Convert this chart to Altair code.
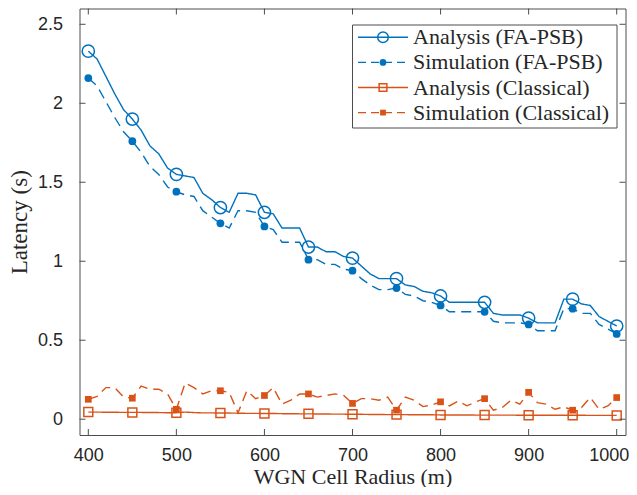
import altair as alt
import pandas as pd

radius = list(range(400, 1001, 10))

ana_fa = [2.33, 2.28, 2.17, 2.06, 1.96, 1.90, 1.83, 1.73, 1.68, 1.59,
          1.55, 1.54, 1.53, 1.43, 1.39, 1.34, 1.31, 1.43, 1.43, 1.42,
          1.31, 1.30, 1.21, 1.21, 1.21, 1.09, 1.09, 1.06, 1.06, 1.03,
          1.02, 0.97, 0.92, 0.89, 0.89, 0.89, 0.85, 0.84, 0.81, 0.80,
          0.78, 0.74, 0.74, 0.74, 0.74, 0.74, 0.67, 0.66, 0.66, 0.66,
          0.64, 0.61, 0.61, 0.61, 0.76, 0.76, 0.73, 0.72, 0.65, 0.62,
          0.59]

sim_fa = [2.16, 2.11, 2.01, 1.91, 1.82, 1.76, 1.69, 1.60, 1.55, 1.47,
          1.44, 1.42, 1.41, 1.32, 1.28, 1.24, 1.21, 1.32, 1.32, 1.31,
          1.22, 1.20, 1.12, 1.12, 1.12, 1.01, 1.01, 0.98, 0.98, 0.95,
          0.94, 0.89, 0.85, 0.82, 0.82, 0.83, 0.79, 0.78, 0.75, 0.74,
          0.72, 0.68, 0.68, 0.68, 0.68, 0.68, 0.62, 0.61, 0.61, 0.61,
          0.60, 0.56, 0.56, 0.56, 0.70, 0.70, 0.67, 0.67, 0.60, 0.57,
          0.54]

ana_cl = [0.045, 0.045, 0.044, 0.044, 0.043, 0.043, 0.043, 0.042, 0.042, 0.041,
          0.041, 0.045, 0.042, 0.040, 0.040, 0.039, 0.039, 0.038, 0.037, 0.037,
          0.036, 0.036, 0.035, 0.035, 0.034, 0.034, 0.033, 0.033, 0.032, 0.032,
          0.031, 0.031, 0.030, 0.030, 0.029, 0.029, 0.029, 0.028, 0.028, 0.028,
          0.027, 0.027, 0.027, 0.027, 0.026, 0.026, 0.026, 0.026, 0.026, 0.025,
          0.025, 0.025, 0.025, 0.025, 0.025, 0.025, 0.025, 0.024, 0.024, 0.024,
          0.024]

sim_cl = [0.126, 0.145, 0.200, 0.200, 0.140, 0.133, 0.210, 0.190, 0.190, 0.160,
          0.063, 0.230, 0.200, 0.160, 0.180, 0.180, 0.170, 0.040, 0.180, 0.130,
          0.150, 0.200, 0.095, 0.120, 0.160, 0.160, 0.140, 0.150, 0.160, 0.150,
          0.100, 0.130, 0.130, 0.120, 0.140, 0.057, 0.140, 0.120, 0.080, 0.090,
          0.110, 0.084, 0.115, 0.085, 0.110, 0.130, 0.057, 0.074, 0.120, 0.095,
          0.170, 0.105, 0.095, 0.063, 0.078, 0.057, 0.074, 0.137, 0.063, 0.084,
          0.137]

series_names = ["Analysis (FA-PSB)", "Simulation (FA-PSB)",
                "Analysis (Classical)", "Simulation (Classical)"]
series_values = [ana_fa, sim_fa, ana_cl, sim_cl]

x_ticks = [400, 500, 600, 700, 800, 900, 1000]
y_ticks = [0, 0.5, 1, 1.5, 2, 2.5]

BLUE = "#0072BD"
ORANGE = "#D95319"
AXC = "#262626"
FRAME = "#4d4d4d"
W = 546
H = 426.5
DASH = [10, 6]

styles = [
    dict(color=BLUE, dash=[1, 0], shape="circle", filled=False, size=150),
    dict(color=BLUE, dash=DASH, shape="circle", filled=True, size=60),
    dict(color=ORANGE, dash=[1, 0], shape="square", filled=False, size=80),
    dict(color=ORANGE, dash=DASH, shape="square", filled=True, size=45),
]

xs = alt.Scale(domain=[390, 1010], nice=False, zero=False)
ys = alt.Scale(domain=[-0.1, 2.6], nice=False, zero=False)

x_axis = alt.Axis(values=x_ticks, format="d", ticks=False, domain=False, grid=False,
                  labelFont="Liberation Sans", labelFontSize=18, labelColor=AXC,
                  labelPadding=11, labelOverlap=False, labelFlush=False,
                  labelOffset={"condition": {"test": "datum.value === 1000", "value": -8},
                               "value": 0},
                  title="WGN Cell Radius (m)",
                  titleFont="Liberation Serif", titleFontSize=22,
                  titleFontWeight="normal", titleColor=AXC, titlePadding=2)
y_axis = alt.Axis(values=y_ticks, format="~g", ticks=False, domain=False, grid=False,
                  labelFont="Liberation Sans", labelFontSize=18, labelColor=AXC,
                  labelPadding=17, title="Latency (s)",
                  titleFont="Liberation Serif", titleFontSize=23,
                  titleFontWeight="normal", titleColor=AXC, titlePadding=6)


def X(f):
    return alt.X(f, scale=xs, axis=x_axis)


def Y(f):
    return alt.Y(f, scale=ys, axis=y_axis)


layers = []
for i, (name, vals) in enumerate(zip(series_names, series_values)):
    st = styles[i]
    df = pd.DataFrame({"x": radius, "y": vals})
    base = alt.Chart(df)
    line = base.mark_line(color=st["color"], strokeWidth=1.4,
                          strokeDash=st["dash"]).encode(x=X("x:Q"), y=Y("y:Q"))
    pts = base.transform_filter("datum.x % 50 == 0").mark_point(
        shape=st["shape"], filled=st["filled"], color=st["color"],
        size=st["size"], strokeWidth=1.5, opacity=1
    ).encode(x=X("x:Q"), y=Y("y:Q"))
    layers += [line, pts]

# inward ticks on all four sides
xt = alt.Chart(pd.DataFrame({"v": x_ticks}))
yt = alt.Chart(pd.DataFrame({"v": y_ticks}))
tick_len = 6
layers.append(xt.mark_rule(color=FRAME, strokeWidth=1).encode(
    x=X("v:Q"), y=alt.value(H), y2=alt.value(H - tick_len)))
layers.append(xt.mark_rule(color=FRAME, strokeWidth=1).encode(
    x=X("v:Q"), y=alt.value(0), y2=alt.value(tick_len)))
layers.append(yt.mark_rule(color=FRAME, strokeWidth=1).encode(
    y=Y("v:Q"), x=alt.value(0), x2=alt.value(tick_len)))
layers.append(yt.mark_rule(color=FRAME, strokeWidth=1).encode(
    y=Y("v:Q"), x=alt.value(W), x2=alt.value(W - tick_len)))

# legend box
one = alt.Chart(pd.DataFrame({"a": [0]}))
LX0, LX1, LY0, LY1 = 273, 537.5, 16.5, 119.5
layers.append(one.mark_rect(fill="white", stroke=FRAME, strokeWidth=1).encode(
    x=alt.value(LX0), x2=alt.value(LX1), y=alt.value(LY0), y2=alt.value(LY1)))
for i, name in enumerate(series_names):
    st = styles[i]
    yy = 28.8 + 25.1 * i
    layers.append(one.mark_rule(color=st["color"], strokeWidth=1.4,
                                strokeDash=[8, 5] if st["dash"] == DASH else [1, 0]).encode(
        x=alt.value(278.5), x2=alt.value(328.5), y=alt.value(yy)))
    layers.append(one.mark_point(shape=st["shape"], filled=st["filled"],
                                 color=st["color"], size=st["size"] * 0.75,
                                 strokeWidth=1.5, opacity=1).encode(
        x=alt.value(303.5), y=alt.value(yy)))
    layers.append(one.mark_text(text=name, font="Liberation Serif", fontSize=22,
                                align="left", baseline="middle", color=AXC).encode(
        x=alt.value(333.5), y=alt.value(yy)))

chart = alt.layer(*layers).properties(
    width=W, height=H,
    background="white",
    autosize=alt.AutoSizeParams(type="none"),
    padding={"left": 71.5, "top": 0.5, "right": 3.5, "bottom": 52},
).configure_view(stroke=FRAME, strokeWidth=1)

chart.save("out.html", embed_options={"renderer": "svg", "actions": False})
